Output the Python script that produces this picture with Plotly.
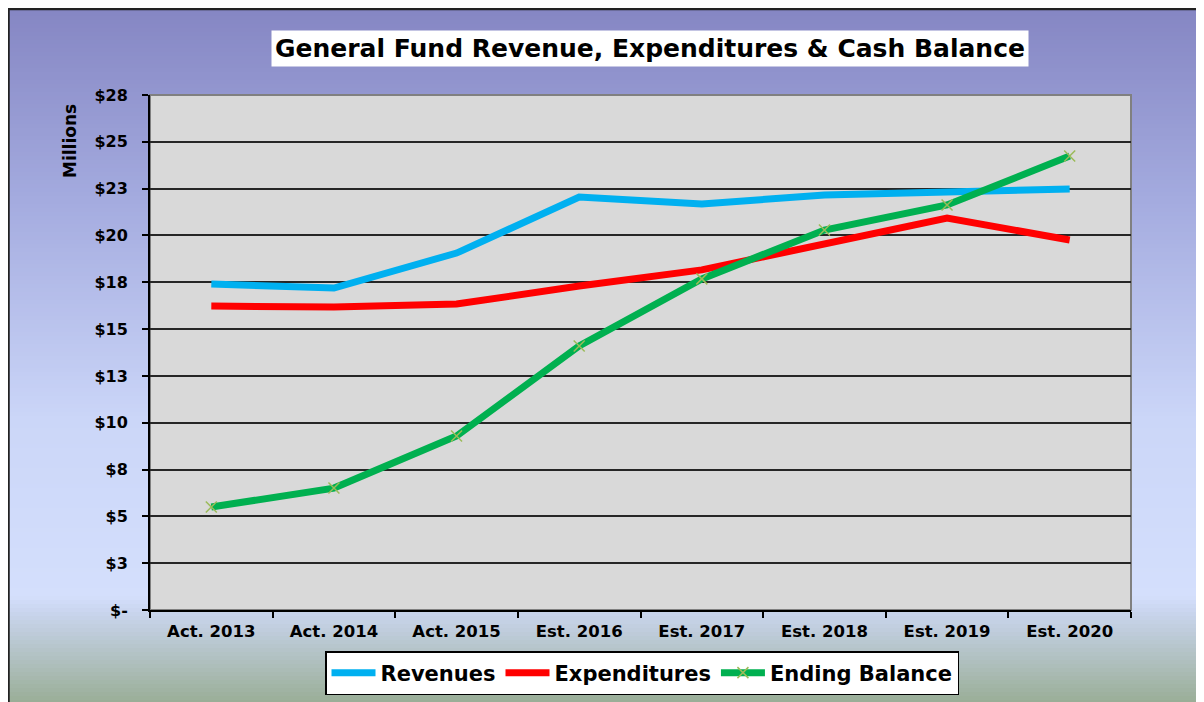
import plotly.graph_objects as go

categories = ["Act. 2013", "Act. 2014", "Act. 2015", "Est. 2016",
              "Est. 2017", "Est. 2018", "Est. 2019", "Est. 2020"]
revenues = [17.41, 17.19, 19.06, 22.05, 21.68, 22.16, 22.32, 22.48]
expenditures = [16.23, 16.18, 16.34, 17.30, 18.16, 19.54, 20.93, 19.76]
ending_balance = [5.50, 6.51, 9.29, 14.10, 17.68, 20.29, 21.63, 24.24]

y_tickvals = [0, 2.5, 5, 7.5, 10, 12.5, 15, 17.5, 20, 22.5, 25, 27.5]
y_ticktext = ["$-", "$3", "$5", "$8", "$10", "$13", "$15", "$18", "$20", "$23", "$25", "$28"]

W, H = 1204, 702
OFF = 8  # page body margin
# plot area in screen pixels: x 150..1131, y 95..610
L = 150 - OFF
T = 95 - OFF
PW, PH = 981, 515
R = W - L - PW
B = H - T - PH

def px_x(p):  # screen px -> paper
    return (p - OFF - L) / PW

def px_y(p):
    return (T + PH - (p - OFF)) / PH

FONT = "DejaVu Sans"

fig = go.Figure()
fig.add_trace(go.Scatter(x=categories, y=revenues, name="Revenues", mode="lines",
                         line=dict(color="#00b0f0", width=7)))
fig.add_trace(go.Scatter(x=categories, y=expenditures, name="Expenditures", mode="lines",
                         line=dict(color="#ff0000", width=7)))
fig.add_trace(go.Scatter(x=categories, y=ending_balance, name="Ending Balance", mode="lines+markers",
                         line=dict(color="#00b050", width=7),
                         marker=dict(symbol="x-thin", size=11, color="#9bbb59",
                                     line=dict(color="#9bbb59", width=1.5))))

# background gradient strips (style only), screen y positions
stops = [(8, (0x85, 0x86, 0xc3)), (200, (0xa4, 0xab, 0xdf)), (420, (0xcb, 0xd6, 0xf8)),
         (596, (0xd4, 0xdf, 0xfc)), (614, (0xc8, 0xd4, 0xec)), (702, (0x9a, 0xae, 0x97))]

def col_at(y):
    for (y0, c0), (y1, c1) in zip(stops[:-1], stops[1:]):
        if y0 <= y <= y1:
            t = (y - y0) / (y1 - y0)
            c = [round(a + (b - a) * t) for a, b in zip(c0, c1)]
            return "rgb(%d,%d,%d)" % tuple(c)
    return "rgb(%d,%d,%d)" % stops[-1][1]

shapes = []
step = 4
y = 8
while y < 716:
    shapes.append(dict(type="rect", xref="paper", yref="paper", layer="below",
                       x0=px_x(7), x1=px_x(1220), y0=px_y(y + step + 0.5), y1=px_y(y),
                       fillcolor=col_at(y + step / 2), line=dict(width=0)))
    y += step
# outer border
shapes.append(dict(type="rect", xref="paper", yref="paper", layer="below",
                   x0=px_x(8.5), x1=px_x(1225), y0=px_y(725), y1=px_y(9),
                   line=dict(color="#222222", width=2.5), fillcolor="rgba(0,0,0,0)"))
# plot area
shapes.append(dict(type="rect", xref="paper", yref="paper", layer="below",
                   x0=0, x1=1, y0=0, y1=1, fillcolor="#d9d9d9",
                   line=dict(color="#808080", width=2)))

fig.update_layout(
    width=W, height=H,
    margin=dict(l=L, r=R, t=T, b=B),
    paper_bgcolor="white", plot_bgcolor="rgba(0,0,0,0)",
    shapes=shapes,
    font=dict(family=FONT, color="black"),
    showlegend=True,
    legend=dict(orientation="h", x=px_x(642), xanchor="center", y=px_y(651), yanchor="top",
                bgcolor="white", bordercolor="black", borderwidth=1.5,
                font=dict(family=FONT, size=21, color="black", weight="bold"),
                itemwidth=44, tracegroupgap=0),
    xaxis=dict(type="category", range=[-0.5, 7.5], showgrid=False,
               showline=True, linecolor="black", linewidth=2,
               ticks="outside", tickson="boundaries", ticklen=6, tickwidth=2, tickcolor="black",
               ticklabelstandoff=5,
               tickfont=dict(family=FONT, size=16.5, color="black", weight="bold"),
               fixedrange=True),
    yaxis=dict(range=[0, 27.5], tickvals=y_tickvals, ticktext=y_ticktext,
               showgrid=True, gridcolor="#262626", gridwidth=1.5,
               showline=True, linecolor="black", linewidth=2, zeroline=False,
               ticks="outside", ticklen=6, tickwidth=2, tickcolor="black",
               ticklabelstandoff=11,
               tickfont=dict(family=FONT, size=16, color="black", weight="bold"),
               fixedrange=True),
    annotations=[
        dict(text="General Fund Revenue, Expenditures & Cash Balance", xref="paper", yref="paper",
             x=px_x(650), y=px_y(49), xanchor="center", yanchor="middle", showarrow=False,
             bgcolor="white", borderpad=3,
             font=dict(family=FONT, size=25, color="black", weight="bold")),
        dict(text="Millions", xref="paper", yref="paper", textangle=-90,
             x=px_x(70), y=px_y(141), xanchor="center", yanchor="middle", showarrow=False,
             font=dict(family=FONT, size=17, color="black", weight="bold")),
    ],
)

fig.write_html("out.html")
